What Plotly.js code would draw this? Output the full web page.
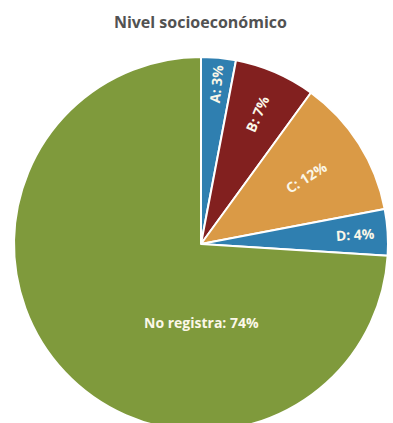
<!DOCTYPE html>
<html>
<head>
<meta charset="utf-8">
<script src="https://cdn.plot.ly/plotly-3.0.1.min.js"></script>
<style>
html,body{margin:0;padding:0;overflow:hidden;background:#fff;}
#chart{width:393px;height:440px;}
</style>
</head>
<body>
<div id="chart"></div>
<script>
const categories = ['A', 'B', 'C', 'D', 'No registra'];
const values = [3, 7, 12, 4, 74];
const colors = ['#2f7fb0', '#82201f', '#da9a46', '#2f7fb0', '#7f9a3c'];
const titleText = 'Nivel socioeconómico';

const sliceText = categories.map((c, i) => i < 4 ? c + ': ' + values[i] + '%' : '');

const trace = {
  type: 'pie',
  labels: categories,
  values: values,
  sort: false,
  direction: 'clockwise',
  rotation: 0,
  text: sliceText,
  textinfo: 'text',
  textposition: 'inside',
  insidetextorientation: 'radial',
  textfont: {family: '"Open Sans", sans-serif', size: 14, color: '#fbf7e8', weight: 'bold'},
  marker: {colors: colors, line: {color: '#ffffff', width: 2}},
  hoverinfo: 'label+percent',
  showlegend: false
};

const layout = {
  width: 393,
  height: 440,
  margin: {l: 13, r: 4, t: 57, b: 9},
  paper_bgcolor: '#ffffff',
  title: {
    text: '<b>' + titleText + '</b>',
    x: 0.51, xanchor: 'center',
    y: 0.95, yref: 'container', yanchor: 'middle',
    font: {family: '"Open Sans", sans-serif', size: 16, color: '#525252'}
  },
  annotations: [{
    text: '<b>' + categories[4] + ': ' + values[4] + '%</b>',
    x: 0.5, y: 0.29, xref: 'paper', yref: 'paper',
    xanchor: 'center', yanchor: 'middle',
    showarrow: false,
    font: {family: '"Open Sans", sans-serif', size: 14, color: '#fbf7e8'}
  }]
};

Plotly.newPlot('chart', [trace], layout, {displayModeBar: false, staticPlot: true});
</script>
</body>
</html>
